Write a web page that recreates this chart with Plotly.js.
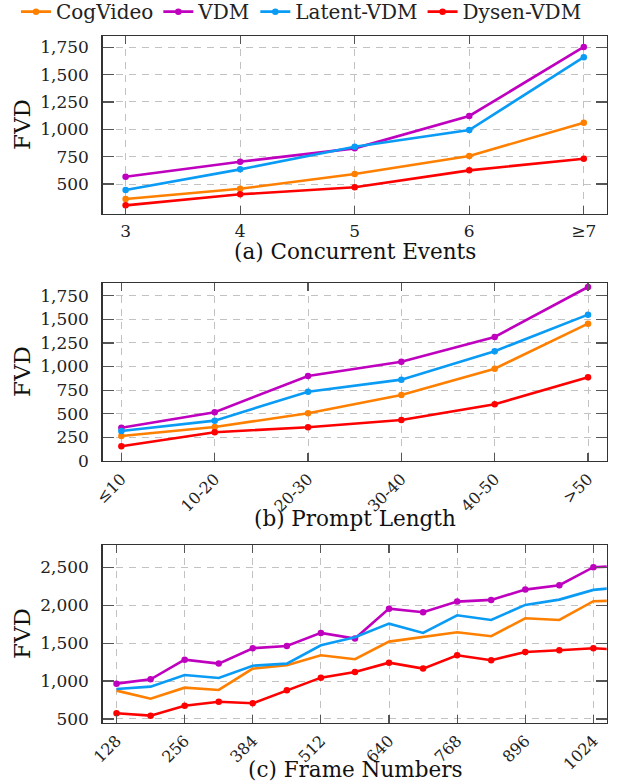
<!DOCTYPE html>
<html>
<head>
<meta charset="utf-8">
<script src="https://cdn.plot.ly/plotly-3.0.1.min.js"></script>
<style>html,body{margin:0;padding:0;background:#fff;}#chart{width:618px;height:784px;}</style>
</head>
<body>
<div id="chart"></div>
<script>
// Series names
const seriesNames = ['CogVideo', 'VDM', 'Latent-VDM', 'Dysen-VDM'];

// (a) Concurrent Events
const catA = ['3', '4', '5', '6', '≥7'];
const cogA = [363, 457, 591, 756, 1061];
const vdmA = [567, 704, 826, 1122, 1753];
const latA = [445, 634, 841, 994, 1659];
const dysA = [305, 406, 470, 625, 731];

// (b) Prompt Length
const catB = ['≤10', '10-20', '20-30', '30-40', '40-50', '>50'];
const cogB = [265, 360, 505, 699, 977, 1454];
const vdmB = [352, 516, 900, 1051, 1313, 1842];
const latB = [318, 427, 734, 861, 1162, 1549];
const dysB = [156, 304, 357, 434, 600, 886];

// (c) Frame Numbers
const framesC = [128, 192, 256, 320, 384, 448, 512, 576, 640, 704, 768, 832, 896, 960, 1024, 1088];
const cogC = [874, 768, 913, 883, 1164, 1208, 1340, 1288, 1520, 1578, 1644, 1591, 1828, 1806, 2053, 2063];
const vdmC = [966, 1023, 1282, 1230, 1433, 1463, 1635, 1560, 1955, 1907, 2048, 2070, 2206, 2264, 2501, 2520];
const latC = [896, 926, 1080, 1041, 1203, 1230, 1472, 1578, 1757, 1635, 1868, 1806, 2004, 2074, 2202, 2245];
const dysC = [575, 544, 675, 728, 707, 878, 1045, 1120, 1243, 1164, 1340, 1274, 1384, 1406, 1433, 1408];
const tickFramesC = [128, 256, 384, 512, 640, 768, 896, 1024];

const yTicksA = [500, 750, 1000, 1250, 1500, 1750];
const yTicksB = [0, 250, 500, 750, 1000, 1250, 1500, 1750];
const yTicksC = [500, 1000, 1500, 2000, 2500];

const colors = ['#FF8000', '#BF00BF', '#0A9BF5', '#FF0000'];
const FONT = '"DejaVu Serif", "Liberation Serif", serif';
const W = 618, H = 784;

function px2x(p) { return p / W; }
function px2y(p) { return 1 - p / H; }

const traces = [];
function addSet(xs, ys, xa, ya, legend, markerMask) {
  ys.forEach((vals, i) => {
    const withMarkers = markerMask[i];
    traces.push({
      x: xs, y: vals, xaxis: xa, yaxis: ya,
      type: 'scatter',
      mode: withMarkers ? 'lines+markers' : 'lines',
      name: seriesNames[i],
      legendgroup: seriesNames[i],
      showlegend: legend,
      line: {color: colors[i], width: 2.6},
      marker: {color: colors[i], size: 6.5},
      hoverinfo: 'skip'
    });
  });
}
addSet(catA, [cogA, vdmA, latA, dysA], 'x', 'y', true, [true, true, true, true]);
addSet(catB, [cogB, vdmB, latB, dysB], 'x2', 'y2', false, [true, true, true, true]);
addSet(framesC, [cogC, vdmC, latC, dysC], 'x3', 'y3', false, [false, true, false, true]);

const xDomain = [px2x(102.7), px2x(606.7)];
const gridCommon = {
  showgrid: true, gridcolor: '#c2c2c2', gridwidth: 1, griddash: '7px,6px',
  showline: true, linecolor: '#333', linewidth: 1.4, mirror: 'allticks',
  ticks: 'inside', tickcolor: '#555', tickwidth: 1.2,
  zeroline: false, automargin: false,
  tickfont: {family: FONT, size: 17, color: '#222'}
};
function xax(extra) { return Object.assign({}, gridCommon, {domain: xDomain, ticklen: 8}, extra); }
function yax(extra) { return Object.assign({}, gridCommon, {ticklen: 11, tickformat: ',', ticklabelstandoff: 9}, extra); }
const rotFont = {family: FONT, size: 16, color: '#222'};

const layout = {
  width: W, height: H,
  margin: {l: 0, r: 0, t: 0, b: 0, autoexpand: false},
  paper_bgcolor: '#fff', plot_bgcolor: '#fff',
  font: {family: FONT},
  showlegend: true,
  legend: {
    orientation: 'h', x: px2x(16), xanchor: 'left', y: 1.01, yanchor: 'top',
    font: {family: FONT, size: 20, color: '#222'},
    bgcolor: 'rgba(0,0,0,0)', itemwidth: 30, tracegroupgap: 0
  },
  xaxis: xax({anchor: 'y', type: 'category', range: [-0.2, catA.length - 0.8], tickangle: 0, ticklabelstandoff: 1}),
  yaxis: yax({anchor: 'x', domain: [px2y(214), px2y(36)], range: [226, 1853], tickvals: yTicksA}),
  xaxis2: xax({anchor: 'y2', type: 'category', range: [-0.2, catB.length - 0.8], tickangle: -45, ticklabelstandoff: 1, tickfont: rotFont}),
  yaxis2: yax({anchor: 'x2', domain: [px2y(461), px2y(283.3)], range: [0, 1881], tickvals: yTicksB}),
  xaxis3: xax({anchor: 'y3', type: 'linear', range: [102, 1049], tickvals: tickFramesC, tickangle: -45, ticklabelstandoff: 1, tickfont: rotFont}),
  yaxis3: yax({anchor: 'x3', domain: [px2y(722.7), px2y(545)], range: [451, 2794], tickvals: yTicksC}),
  annotations: [
    {text: '(a) Concurrent Events', x: px2x(354.7), y: px2y(251)},
    {text: '(b) Prompt Length', x: px2x(354.7), y: px2y(518)},
    {text: '(c) Frame Numbers', x: px2x(354.7), y: px2y(769)},
    {text: 'FVD', x: px2x(22), y: px2y(125), textangle: -90},
    {text: 'FVD', x: px2x(22), y: px2y(372), textangle: -90},
    {text: 'FVD', x: px2x(22), y: px2y(634), textangle: -90}
  ].map(a => Object.assign({
    xref: 'paper', yref: 'paper', showarrow: false, xanchor: 'center', yanchor: 'middle',
    font: {family: FONT, size: a.textangle ? 23 : 21.5, color: '#111'}
  }, a))
};

Plotly.newPlot('chart', traces, layout, {displayModeBar: false, staticPlot: true});
</script>
</body>
</html>
